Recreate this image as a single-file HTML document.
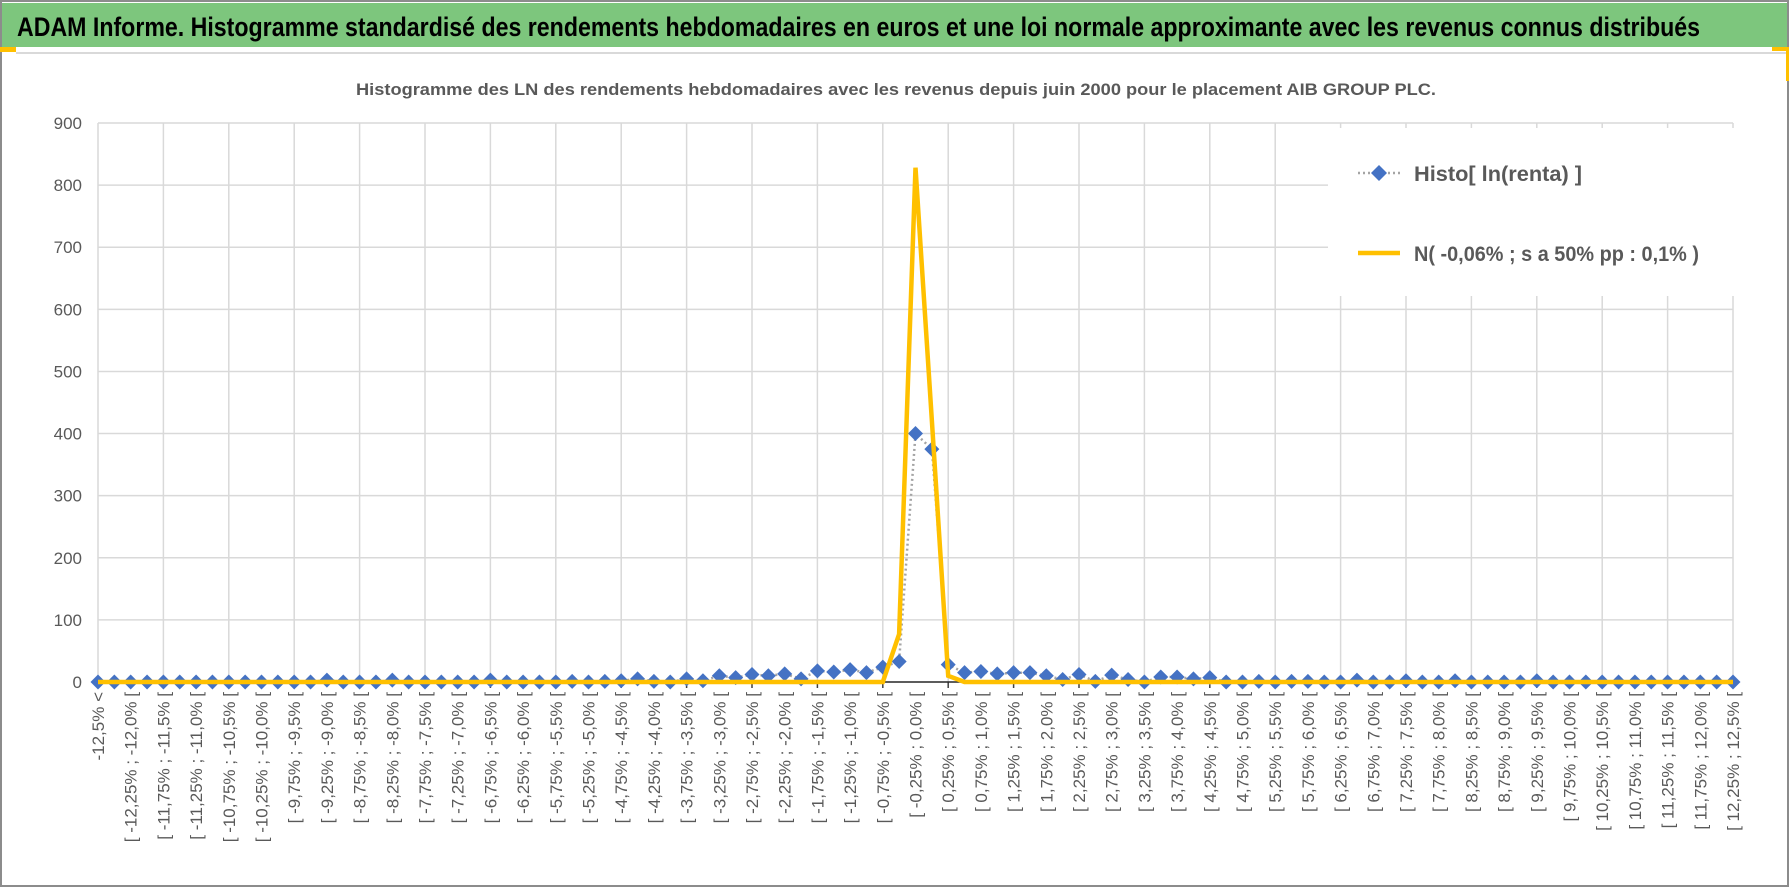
<!DOCTYPE html>
<html><head><meta charset="utf-8">
<style>
html,body{margin:0;padding:0;background:#fff;}
svg{display:block;}
text{font-family:"Liberation Sans",sans-serif;}
</style></head>
<body>
<svg id="chart" width="1790" height="888" viewBox="0 0 1790 888" xmlns="http://www.w3.org/2000/svg">
  <rect x="0" y="0" width="1790" height="888" fill="#fff"/>
  <rect x="1" y="1" width="1787" height="885" fill="none" stroke="#8c8c8c" stroke-width="2"/>
  <rect x="2" y="3" width="1785" height="44" fill="#7dc67d"/>
  <rect x="0" y="47" width="16" height="5" fill="#ffc000"/>
  <rect x="1772" y="47" width="14" height="4" fill="#ffc000"/>
  <rect x="1786" y="47" width="3" height="34" fill="#ffc000"/>
  <line x1="16" y1="53" x2="1786" y2="53" stroke="#d9d9d9" stroke-width="2"/>
  <text x="17" y="36" font-size="27" font-weight="bold" fill="#000" textLength="1683" lengthAdjust="spacingAndGlyphs">ADAM Informe. Histogramme standardisé des rendements hebdomadaires en euros et une loi normale approximante avec les revenus connus distribués</text>
  <text x="896" y="95" font-size="17" font-weight="bold" fill="#595959" text-anchor="middle" textLength="1080" lengthAdjust="spacingAndGlyphs">Histogramme des LN des rendements hebdomadaires avec les revenus depuis juin 2000 pour le placement AIB GROUP PLC.</text>
  <g id="grid"></g>
  <g id="yaxis"></g>
  <g id="xaxis"></g>
  <g id="series"></g>
  <g>
    <rect x="1328" y="128" width="406" height="168" fill="#fff"/>
    <g>
      <line x1="1358" y1="173" x2="1400" y2="173" stroke="#a5a5a5" stroke-width="2.5" stroke-dasharray="2,3"/>
      <path d="M1379 165 L1387 173 L1379 181 L1371 173 Z" fill="#4472c4"/>
      <text x="1414" y="181" font-size="21" font-weight="bold" fill="#595959" textLength="168" lengthAdjust="spacingAndGlyphs">Histo[ ln(renta) ]</text>
    </g>
    <g>
      <line x1="1358" y1="253" x2="1400" y2="253" stroke="#ffc000" stroke-width="4.5"/>
      <text x="1414" y="261" font-size="21" font-weight="bold" fill="#595959" textLength="285" lengthAdjust="spacingAndGlyphs">N( -0,06% ; s a 50% pp : 0,1% )</text>
    </g>
  </g>
</svg>
<script>
// ---- chart data ----
const yTicks = [0,100,200,300,400,500,600,700,800,900];
const histoValues = [
 0,0,0,0,0,0,0,0,0,0, 0,0,0,0,3,0,0,0,3,0, 0,0,0,0,3,0,0,0,0,1,
 0,1,2,5,1,0,5,2,10,7, 12,10,13,5,18,16,20,15,24,33, 400,375,28,15,17,13,15,15,10,4,
 12,1,11,4,0,8,8,5,7,0, 0,1,0,1,1,0,0,3,0,0, 2,0,0,2,0,0,0,0,2,0,
 0,0,0,0,0,0,0,0,0,0, 0
];
const normalValues = [];
for (let i = 0; i < 101; i++) normalValues.push(0);
normalValues[49] = 77; normalValues[50] = 828; normalValues[51] = 420; normalValues[52] = 10;

function fmt(v){ let s = (Math.round(v*100)/100).toString(); if(s.indexOf('.')<0) s += '.0'; return s.replace('.',',') + '%'; }
const categories = ['-12,5% <'];
for (let i = 1; i <= 100; i++) { const a = -12.5 + 0.25*(i-1); categories.push('[ ' + fmt(a) + ' ; ' + fmt(a+0.25) + ' ['); }

// ---- layout ----
const NS = 'http://www.w3.org/2000/svg';
const L = 98, R = 1733, T = 123, B = 682, YMAX = 900;
function xPos(i){ return L + (R-L) * i / (categories.length-1); }
function yPos(v){ return B - (B-T) * v / YMAX; }
function mk(tag, attrs, parent){ const e = document.createElementNS(NS, tag); for (const k in attrs) e.setAttribute(k, attrs[k]); parent.appendChild(e); return e; }

const grid = document.getElementById('grid');
const yaxis = document.getElementById('yaxis');
const xaxis = document.getElementById('xaxis');
const series = document.getElementById('series');

yTicks.forEach(v => {
  if (v > 0) {
    const g = mk('line', {x1:L, x2:R, y1:yPos(v), y2:yPos(v), stroke:'#d9d9d9', 'stroke-width':1.5}, grid);
    
    
  }
  const t = mk('text', {x:82, y:yPos(v)+6, 'font-size':17, fill:'#595959', 'text-anchor':'end'}, yaxis);
  t.textContent = v;
  
  
});
for (let i = 0; i < categories.length; i += 4) {
  const g = mk('line', {x1:xPos(i), x2:xPos(i), y1:T, y2:B, stroke:'#d9d9d9', 'stroke-width':1.5}, grid);
  
  
  const tk = mk('line', {x1:xPos(i), x2:xPos(i), y1:B, y2:B+6, stroke:'#404040', 'stroke-width':1.5}, xaxis);
  
  
}
const ax = mk('line', {x1:L, x2:R, y1:B, y2:B, stroke:'#262626', 'stroke-width':1.5}, xaxis);


for (let i = 0; i < categories.length; i += 2) {
  const x = xPos(i) + 6, y = B + 10;
  const t = mk('text', {x:x, y:y, 'font-size':17, fill:'#595959', 'text-anchor':'end', transform:'rotate(-90 '+x+' '+y+')'}, xaxis);
  t.textContent = categories[i];
  
  
}

// histogram dotted line
let d1 = histoValues.map((v,i) => (i?'L':'M') + xPos(i).toFixed(1) + ' ' + yPos(v).toFixed(1)).join(' ');
const hl = mk('path', {d:d1, fill:'none', stroke:'#a5a5a5', 'stroke-width':2.5, 'stroke-dasharray':'2,3'}, series);



// histogram markers
histoValues.forEach((v,i) => {
  const x = xPos(i), y = yPos(v), s = 7.5;
  const m = mk('path', {d:'M'+x+' '+(y-s)+' L'+(x+s)+' '+y+' L'+x+' '+(y+s)+' L'+(x-s)+' '+y+' Z', fill:'#4472c4'}, series);
  
  
});

// normal line
let d2 = normalValues.map((v,i) => (i?'L':'M') + xPos(i).toFixed(1) + ' ' + yPos(v).toFixed(1)).join(' ');
const nl = mk('path', {d:d2, fill:'none', stroke:'#ffc000', 'stroke-width':4.5, 'stroke-linejoin':'miter'}, series);


</script>
</body></html>
